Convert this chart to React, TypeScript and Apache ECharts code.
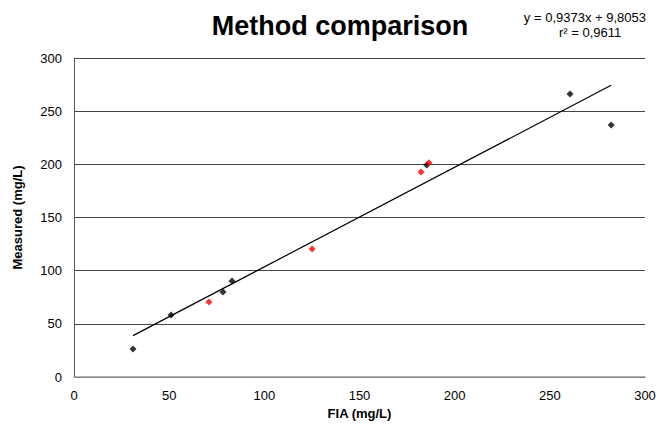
import React, { useEffect, useRef } from "react";
import * as echarts from "echarts";

const TITLE = "Method comparison";
const EQUATION = "y = 0,9373x + 9,8053";
const R2 = "r² = 0,9611";
const X_NAME = "FIA (mg/L)";
const Y_NAME = "Measured (mg/L)";

const blackX = [31.0, 51.0, 78.3, 83.0, 185.3, 260.6, 282.2];
const blackY = [26.3, 58.3, 80.0, 90.3, 199.4, 266.2, 237.0];
const redX = [70.9, 125.1, 182.3, 186.5];
const redY = [70.5, 120.4, 192.8, 201.5];
const trendX = [31.0, 282.2];
const trendY = [38.9, 274.3];

const FONT = "'Liberation Sans', Arial, sans-serif";

export default function App() {
  const ref = useRef<HTMLDivElement>(null);
  useEffect(() => {
    if (!ref.current) return;
    const chart = echarts.init(ref.current, null, { renderer: "svg" });
    chart.setOption({
      animation: false,
      backgroundColor: "#ffffff",
      textStyle: { fontFamily: FONT },
      title: [
        {
          text: TITLE,
          left: 335,
          top: 7,
          textAlign: "center",
          textStyle: { fontFamily: FONT, fontSize: 27, fontWeight: "bold", color: "#000" },
        },
      ],
      graphic: [
        {
          type: "text",
          right: 14,
          top: 11,
          style: { text: EQUATION, font: `13px ${FONT}`, fill: "#000" },
        },
        {
          type: "text",
          left: 559,
          top: 26,
          style: { text: R2, font: `13px ${FONT}`, fill: "#000" },
        },
      ],
      grid: { left: 74, right: 15, top: 58, bottom: 48, containLabel: false },
      xAxis: {
        type: "value",
        min: 0,
        max: 300,
        interval: 50,
        name: X_NAME,
        nameLocation: "middle",
        nameGap: 27,
        nameTextStyle: { fontFamily: FONT, fontSize: 13, fontWeight: "bold", color: "#000" },
        axisLine: { show: true, lineStyle: { color: "#999", width: 1.5 } },
        axisTick: { show: false },
        axisLabel: { fontFamily: FONT, fontSize: 13, color: "#000", margin: 12 },
        splitLine: { show: false },
      },
      yAxis: {
        type: "value",
        min: 0,
        max: 300,
        interval: 50,
        name: Y_NAME,
        nameLocation: "middle",
        nameGap: 50,
        nameRotate: 90,
        nameTextStyle: { fontFamily: FONT, fontSize: 13, fontWeight: "bold", color: "#000" },
        axisLine: { show: true, lineStyle: { color: "#555", width: 1 } },
        axisTick: { show: false },
        axisLabel: { fontFamily: FONT, fontSize: 13, color: "#000", margin: 12 },
        splitLine: { show: true, lineStyle: { color: "#444", width: 1 } },
      },
      series: [
        {
          type: "line",
          data: trendX.map((x, i) => [x, trendY[i]]),
          symbol: "none",
          lineStyle: { color: "#000", width: 1.2 },
          z: 1,
        },
        {
          type: "scatter",
          data: blackX.map((x, i) => [x, blackY[i]]),
          symbol: "diamond",
          symbolSize: 7,
          itemStyle: { color: "#000" },
          z: 3,
        },
        {
          type: "scatter",
          data: redX.map((x, i) => [x, redY[i]]),
          symbol: "diamond",
          symbolSize: 7,
          itemStyle: { color: "#ff0000" },
          z: 4,
        },
      ],
    });
    return () => chart.dispose();
  }, []);
  return <div ref={ref} style={{ width: 660, height: 425, position: "fixed", left: 0, top: 0 }} />;
}
